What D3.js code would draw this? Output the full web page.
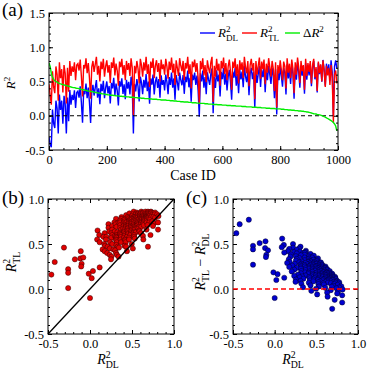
<!DOCTYPE html>
<html>
<head>
<meta charset="utf-8">
<script src="https://cdn.jsdelivr.net/npm/d3@7"></script>
<style>
  body { margin: 0; background: #fff; }
  svg text { font-family: "Liberation Serif", "Times New Roman", serif; fill: #000; }
</style>
</head>
<body>
<svg id="chart" width="374" height="371"></svg>
<script>
// ==== data (one value every 4 case IDs) ====
const caseStep = 4;

// ΔR² (sorted, green curve)
const deltaR2 = [
  0.77,0.72,0.62,0.56,0.53,0.51,0.50,0.49,0.48,0.47,0.465,0.46,0.455,0.45,0.445,0.44,0.435,0.43,0.425,0.42,0.415,0.41,0.41,0.405,0.40,
  0.40,0.395,0.39,0.385,0.38,0.38,0.375,0.37,0.365,0.36,0.36,0.355,0.35,0.35,0.345,0.34,0.34,0.335,0.33,0.33,0.325,0.32,0.32,0.315,0.31,
  0.31,0.305,0.305,0.30,0.30,0.30,0.295,0.295,0.29,0.29,0.29,0.285,0.285,0.285,0.28,0.28,0.28,0.275,0.275,0.275,0.27,0.27,0.27,0.27,0.265,
  0.265,0.265,0.26,0.26,0.26,0.255,0.255,0.255,0.25,0.25,0.25,0.25,0.245,0.245,0.245,0.24,0.24,0.24,0.24,0.235,0.235,0.235,0.23,0.23,0.23,
  0.23,0.23,0.225,0.225,0.225,0.22,0.22,0.22,0.215,0.215,0.215,0.21,0.21,0.21,0.205,0.205,0.205,0.20,0.20,0.20,0.20,0.195,0.195,0.195,0.19,
  0.19,0.19,0.19,0.185,0.185,0.185,0.18,0.18,0.18,0.18,0.175,0.175,0.175,0.17,0.17,0.17,0.17,0.165,0.165,0.165,0.165,0.16,0.16,0.16,0.16,
  0.155,0.155,0.155,0.155,0.15,0.15,0.15,0.15,0.145,0.145,0.145,0.145,0.14,0.14,0.14,0.14,0.14,0.135,0.135,0.135,0.135,0.13,0.13,0.13,0.13,
  0.13,0.125,0.125,0.125,0.125,0.12,0.12,0.12,0.12,0.115,0.115,0.115,0.115,0.11,0.11,0.11,0.11,0.105,0.105,0.105,0.105,0.10,0.10,0.10,0.10,
  0.10,0.095,0.095,0.095,0.09,0.09,0.09,0.085,0.085,0.085,0.08,0.08,0.08,0.075,0.075,0.075,0.07,0.07,0.07,0.065,0.065,0.06,0.06,0.055,0.055,
  0.05,0.045,0.04,0.035,0.03,0.028,0.025,0.02,0.017,0.013,0.008,0.003,-0.005,-0.013,-0.02,-0.03,-0.04,-0.05,-0.06,-0.07,-0.085,-0.10,-0.12,-0.15,-0.22
];

// R²_TL (red)
const r2TL = [
  0.46,0.30,0.16,0.65,0.42,0.33,0.72,0.60,0.22,0.78,0.55,0.68,0.34,0.74,0.62,0.18,0.70,0.35,0.80,0.58,0.72,0.64,0.78,0.52,0.74,
  0.76,0.66,0.82,0.58,0.28,0.74,0.69,0.84,0.62,0.77,0.55,0.25,0.71,0.80,0.64,0.75,0.86,0.60,0.73,0.50,0.79,0.68,0.83,0.57,0.72,
  0.81,0.63,0.74,0.48,0.78,0.70,0.85,0.59,0.76,0.66,0.44,0.79,0.71,0.83,0.60,0.74,0.52,0.80,0.67,0.77,0.58,0.84,0.70,0.01,0.73,
  0.62,0.80,0.69,0.47,0.83,0.74,0.57,0.78,0.66,0.86,0.61,0.75,0.42,0.79,0.70,0.84,0.55,0.73,0.81,0.64,0.77,0.50,0.82,0.68,0.75,
  0.60,0.83,0.72,0.54,0.79,0.67,0.85,0.63,0.76,0.45,0.81,0.70,0.58,0.84,0.73,0.65,0.80,0.52,0.77,0.69,0.86,0.61,0.75,0.40,0.79,
  0.71,0.82,0.64,0.77,0.55,0.17,0.80,0.68,0.84,0.59,0.74,0.49,0.81,0.70,0.62,0.78,0.86,0.20,0.73,0.57,0.83,0.66,0.76,0.44,0.80,
  0.69,0.85,0.61,0.77,0.52,0.72,0.82,0.64,0.38,0.79,0.70,0.84,0.58,0.75,0.47,0.81,0.67,0.78,0.55,0.86,0.71,0.62,0.80,0.43,0.74,
  0.83,0.66,0.77,0.24,0.80,0.60,0.73,0.85,0.54,0.79,0.68,0.82,0.46,0.76,0.63,0.84,0.71,0.57,0.80,0.69,0.36,0.78,0.12,0.74,0.62,
  0.81,0.67,0.52,0.79,0.72,0.40,0.84,0.63,0.76,0.55,0.82,0.69,0.33,0.78,0.60,0.85,0.71,0.48,0.80,0.65,0.74,0.38,0.83,0.58,0.77,
  0.64,0.80,0.47,0.74,0.83,0.56,0.71,0.36,0.79,0.62,0.75,0.50,0.81,0.66,0.42,0.73,0.59,0.70,0.45,0.74,0.55,-0.10,0.60,0.66,0.47
];

// R²_DL (blue)
const r2DL = [
  -0.31,-0.42,-0.46,0.09,-0.11,-0.18,0.22,0.11,-0.26,0.31,0.085,0.22,-0.115,0.29,0.175,-0.26,0.265,-0.08,0.375,0.16,0.305,0.23,0.37,0.115,0.34,
  0.36,0.265,0.43,0.195,-0.10,0.36,0.315,0.47,0.255,0.41,0.19,-0.105,0.36,0.45,0.295,0.41,0.52,0.265,0.40,0.17,0.465,0.36,0.51,0.255,0.41,
  0.50,0.325,0.435,0.18,0.48,0.40,0.555,0.295,0.47,0.37,0.15,0.505,0.425,0.545,0.32,0.46,0.24,0.525,0.395,0.495,0.31,0.57,0.43,-0.26,0.465,
  0.355,0.535,0.43,0.21,0.57,0.485,0.315,0.525,0.41,0.61,0.36,0.50,0.175,0.545,0.455,0.60,0.31,0.49,0.57,0.405,0.535,0.265,0.59,0.45,0.52,
  0.37,0.60,0.495,0.315,0.565,0.45,0.63,0.41,0.545,0.235,0.595,0.49,0.37,0.63,0.525,0.445,0.595,0.32,0.57,0.49,0.66,0.415,0.555,0.205,0.60,
  0.52,0.63,0.45,0.585,0.365,-0.015,0.62,0.50,0.66,0.41,0.565,0.315,0.635,0.53,0.45,0.61,0.69,0.035,0.565,0.405,0.665,0.50,0.60,0.28,0.64,
  0.535,0.695,0.455,0.615,0.37,0.57,0.67,0.49,0.235,0.645,0.555,0.695,0.44,0.61,0.33,0.67,0.53,0.645,0.415,0.725,0.575,0.49,0.67,0.30,0.61,
  0.70,0.535,0.645,0.115,0.675,0.48,0.61,0.73,0.42,0.675,0.565,0.705,0.345,0.65,0.52,0.73,0.60,0.465,0.695,0.585,0.255,0.68,0.02,0.64,0.52,
  0.71,0.575,0.425,0.695,0.63,0.31,0.75,0.545,0.675,0.465,0.74,0.61,0.25,0.705,0.525,0.775,0.64,0.41,0.73,0.585,0.675,0.32,0.77,0.525,0.715,
  0.59,0.755,0.43,0.705,0.80,0.532,0.685,0.34,0.773,0.607,0.742,0.497,0.815,0.673,0.44,0.76,0.63,0.75,0.51,0.81,0.635,0.0,0.72,0.81,0.69
];

const caseTicks = [0, 200, 400, 600, 800, 1000];
const r2TicksA  = [-0.5, 0.0, 0.5, 1.0, 1.5];
const r2Ticks   = [-0.5, 0.0, 0.5, 1.0];

// ==== setup ====
const serif = 'Liberation Serif';
const svg = d3.select('#chart');
const fmt1 = d => d.toFixed(1);
const caseId = (d, i) => i * caseStep;

const xA = d3.scaleLinear().domain([0, 1000]).range([49, 338]);
const yA = d3.scaleLinear().domain([-0.5, 1.5]).range([150, 13]);
const xB = d3.scaleLinear().domain([-0.5, 1.0]).range([48, 174]);
const yB = d3.scaleLinear().domain([-0.5, 1.0]).range([334, 199]);
const xC = d3.scaleLinear().domain([-0.5, 1.0]).range([233, 358]);
const yC = d3.scaleLinear().domain([-0.5, 1.0]).range([334, 199]);

// inward ticks on all four sides, labels left + bottom
function axes(x, y, xMaj, xMin, yMaj, yMin, xFmt, yFmt) {
  const [l, r] = x.range(), [b, t] = y.range();
  const sides = [
    [d3.axisBottom, x, xMaj, xMin, `translate(0,${b})`, xFmt, 5],
    [d3.axisTop,    x, xMaj, xMin, `translate(0,${t})`, null, 0],
    [d3.axisLeft,   y, yMaj, yMin, `translate(${l},0)`, yFmt, 4],
    [d3.axisRight,  y, yMaj, yMin, `translate(${r},0)`, null, 0]
  ];
  sides.forEach(([ax, sc, maj, min, tr, f, pad]) => {
    svg.append('g').attr('transform', tr)
      .call(ax(sc).tickValues(min).tickSize(-2).tickFormat(''))
      .call(g => g.select('.domain').remove());
    const m = svg.append('g').attr('transform', tr)
      .call(ax(sc).tickValues(maj).tickSize(-4).tickPadding(pad).tickFormat(f || ''))
      .call(g => g.select('.domain').remove())
      .attr('font-family', serif);
    m.selectAll('text')
      .style('font-family', serif)
      .attr('font-size', 12.5)
      .attr('fill', '#000');
  });
  svg.append('rect')
    .attr('x', l).attr('y', t).attr('width', r - l).attr('height', b - t)
    .attr('fill', 'none').attr('stroke', '#000').attr('stroke-width', 1);
}

// R with superscript 2 and optional subscript
function addR(txt, sub, size) {
  txt.style('font-family', serif);
  txt.append('tspan').attr('font-style', 'italic').text('R');
  txt.append('tspan').attr('font-size', size * 0.7).attr('dy', -size * 0.4).text('2');
  if (sub) {
    txt.append('tspan').attr('font-size', size * 0.7)
      .attr('dx', -size * 0.35).attr('dy', size * 0.68).text(sub);
    return size * 0.28;   // dy needed to get back to baseline
  }
  return -size * 0.4;
}

// ==== Panel (a) ====
svg.append('clipPath').attr('id', 'clipA')
  .append('rect').attr('x', 49).attr('y', 13).attr('width', 289).attr('height', 137);

const gA = svg.append('g').attr('clip-path', 'url(#clipA)');
const lineA = d3.line().x((d, i) => xA(caseId(d, i))).y(d => yA(d));

gA.append('path').datum(r2DL).attr('d', lineA)
  .attr('fill', 'none').attr('stroke', '#0000ff').attr('stroke-width', 1.4);
gA.append('path').datum(r2TL).attr('d', lineA)
  .attr('fill', 'none').attr('stroke', '#ff0000').attr('stroke-width', 1.4);
gA.append('line')
  .attr('x1', xA(0)).attr('x2', xA(1000)).attr('y1', yA(0)).attr('y2', yA(0))
  .attr('stroke', '#000').attr('stroke-width', 1.2).attr('stroke-dasharray', '4,3');
gA.append('path').datum(deltaR2).attr('d', lineA)
  .attr('fill', 'none').attr('stroke', '#00ee00').attr('stroke-width', 1.4);

axes(xA, yA, caseTicks, d3.range(0, 1001, 50), r2TicksA, d3.range(-0.5, 1.51, 0.1), d => d, fmt1);

// legend
const leg = [
  { color: '#0000ff', x: 200, sub: 'DL' },
  { color: '#ff0000', x: 242, sub: 'TL' },
  { color: '#00ee00', x: 285, sub: null }
];
leg.forEach(e => {
  svg.append('line').attr('x1', e.x).attr('x2', e.x + 15).attr('y1', 33).attr('y2', 33)
    .attr('stroke', e.color).attr('stroke-width', 1.4);
  const t = svg.append('text').attr('x', e.x + 18).attr('y', 37).attr('font-size', 13);
  if (e.sub) addR(t, e.sub, 13);
  else { t.append('tspan').text('Δ'); addR(t, null, 13); }
});

svg.append('text').attr('x', 2).attr('y', 16).attr('font-size', 19)
  .style('font-family', serif).text('(a)');
svg.append('text').attr('transform', 'translate(15,83) rotate(-90)')
  .attr('text-anchor', 'middle').attr('font-size', 13)
  .call(t => addR(t, null, 13));
svg.append('text').attr('x', 193).attr('y', 180).attr('text-anchor', 'middle')
  .attr('font-size', 14).style('font-family', serif).text('Case ID');

// ==== Panel (b) ====
axes(xB, yB, r2Ticks, d3.range(-0.5, 1.01, 0.1), r2Ticks, d3.range(-0.5, 1.01, 0.1), fmt1, fmt1);

svg.append('g').selectAll('circle')
  .data(r2DL.map((d, i) => [d, r2TL[i]]))
  .join('circle')
    .attr('cx', d => xB(d[0])).attr('cy', d => yB(d[1])).attr('r', 2.6)
    .attr('fill', '#e00000').attr('stroke', '#330000').attr('stroke-width', 0.5);

svg.append('line')
  .attr('x1', xB(-0.5)).attr('y1', yB(-0.5)).attr('x2', xB(1.0)).attr('y2', yB(1.0))
  .attr('stroke', '#000').attr('stroke-width', 1.3);

svg.append('text').attr('x', 2).attr('y', 204).attr('font-size', 19)
  .style('font-family', serif).text('(b)');
svg.append('text').attr('x', 108).attr('y', 364).attr('text-anchor', 'middle').attr('font-size', 14)
  .call(t => addR(t, 'DL', 14));
svg.append('text').attr('transform', 'translate(16,262) rotate(-90)')
  .attr('text-anchor', 'middle').attr('font-size', 14)
  .call(t => addR(t, 'TL', 14));

// ==== Panel (c) ====
axes(xC, yC, r2Ticks, d3.range(-0.5, 1.01, 0.1), r2Ticks, d3.range(-0.5, 1.01, 0.1), fmt1, fmt1);

svg.append('g').selectAll('circle')
  .data(r2DL.map((d, i) => [d, deltaR2[i]]))
  .join('circle')
    .attr('cx', d => xC(d[0])).attr('cy', d => yC(d[1])).attr('r', 2.6)
    .attr('fill', '#0000d0').attr('stroke', '#000022').attr('stroke-width', 0.5);

svg.append('line')
  .attr('x1', xC(-0.5)).attr('x2', xC(1.0)).attr('y1', yC(0)).attr('y2', yC(0))
  .attr('stroke', '#ff0000').attr('stroke-width', 1.6).attr('stroke-dasharray', '5,3');

svg.append('text').attr('x', 186).attr('y', 204).attr('font-size', 19)
  .style('font-family', serif).text('(c)');
svg.append('text').attr('x', 293).attr('y', 364).attr('text-anchor', 'middle').attr('font-size', 14)
  .call(t => addR(t, 'DL', 14));
svg.append('text').attr('transform', 'translate(205,262) rotate(-90)')
  .attr('text-anchor', 'middle').attr('font-size', 14)
  .call(t => {
    const back = addR(t, 'TL', 14);
    t.append('tspan').attr('dy', -back).text(' − ');
    addR(t, 'DL', 14);
  });
</script>
</body>
</html>
